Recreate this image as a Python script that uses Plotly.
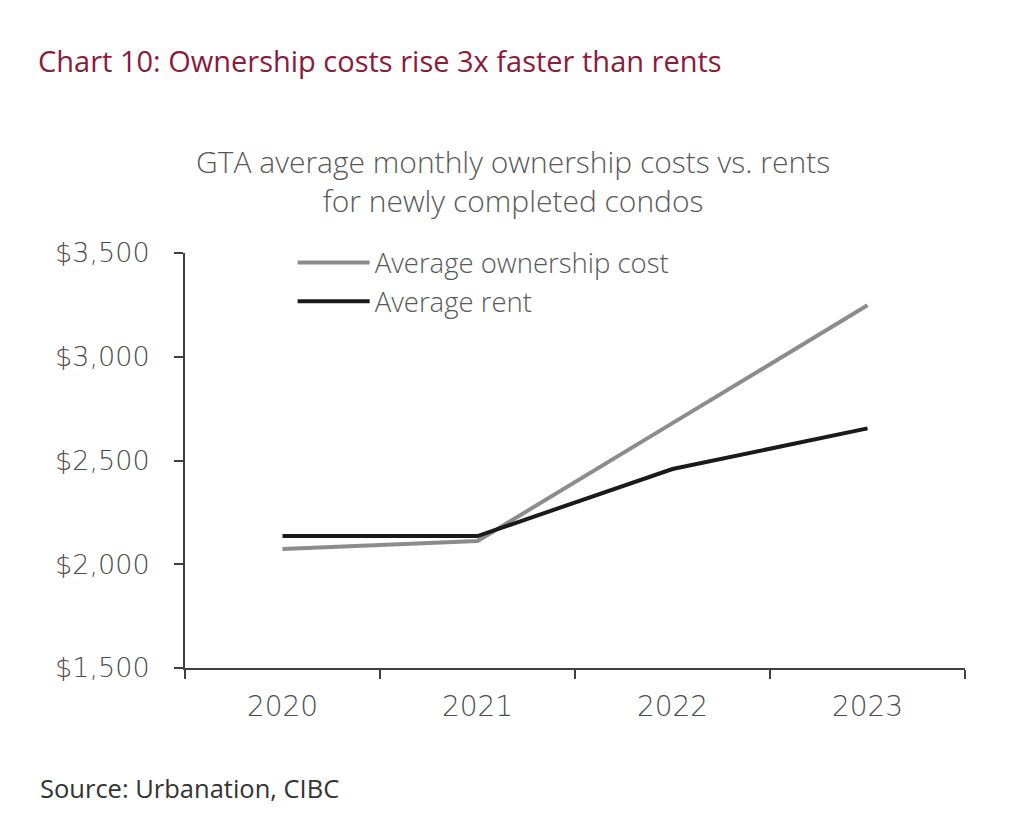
import plotly.graph_objects as go

years = ["2020", "2021", "2022", "2023"]
ownership_cost = [2073, 2112, 2680, 3248]
avg_rent = [2136, 2136, 2459, 2655]

y_ticks = [1500, 2000, 2500, 3000, 3500]
y_labels = ["$1,500", "$2,000", "$2,500", "$3,000", "$3,500"]

FONT = "Open Sans"
TICK_FONT = "DejaVu Sans"
GREY_TXT = "#595959"

fig = go.Figure(
    data=[
        go.Scatter(x=years, y=ownership_cost, name="Average ownership cost",
                   mode="lines", line=dict(color="#8c8c8c", width=4)),
        go.Scatter(x=years, y=avg_rent, name="Average rent",
                   mode="lines", line=dict(color="#1a1a1a", width=4)),
    ]
)

# page is drawn with an 8px offset, so the margins are shifted by that
fig.update_layout(
    width=1010,
    height=834,
    margin=dict(l=177, r=53, t=245, b=174),
    paper_bgcolor="white",
    plot_bgcolor="white",
    font=dict(family=FONT, color=GREY_TXT),
    title=dict(
        text="Chart 10: Ownership costs rise 3x faster than rents",
        font=dict(family=FONT, size=29, color="#8b1a3c", weight=500),
        xref="container", yref="container",
        x=30 / 1010, xanchor="left",
        y=1 - 54 / 834, yanchor="middle",
    ),
    legend=dict(
        x=0.138, y=1.036, xanchor="left", yanchor="top",
        bgcolor="rgba(0,0,0,0)",
        font=dict(family=FONT, size=27.5, color=GREY_TXT, weight=300),
        itemwidth=72,
        tracegroupgap=0,
    ),
    xaxis=dict(
        type="category",
        range=[-0.5, 3.5],
        tickson="boundaries",
        ticks="outside", ticklen=9, tickwidth=2, tickcolor="#404040",
        showline=True, linecolor="#404040", linewidth=2,
        showgrid=False, zeroline=False,
        tickfont=dict(family=TICK_FONT, size=28, color="#4d4d4d", weight=200),
        ticklabelstandoff=12,
    ),
    yaxis=dict(
        range=[1500, 3500],
        tickvals=y_ticks, ticktext=y_labels,
        ticks="outside", ticklen=9, tickwidth=2, tickcolor="#404040",
        showline=True, linecolor="#404040", linewidth=2,
        showgrid=False, zeroline=False,
        tickfont=dict(family=TICK_FONT, size=27, color="#4d4d4d", weight=200),
        ticklabelstandoff=19,
    ),
    annotations=[
        dict(
            text="GTA average monthly ownership costs vs. rents<br>for newly completed condos",
            xref="paper", yref="paper", x=(513 - 185) / 780, y=(668 - 181) / 415,
            xanchor="center", yanchor="middle", showarrow=False,
            font=dict(family=FONT, size=30, color=GREY_TXT, weight=300),
        ),
        dict(
            text="Source: Urbanation, CIBC",
            xref="paper", yref="paper", x=(38 - 185) / 780, y=(668 - 788) / 415,
            xanchor="left", yanchor="middle", showarrow=False,
            font=dict(family=FONT, size=25.5, color="#333333"),
        ),
    ],
)

fig.write_html("out.html")
